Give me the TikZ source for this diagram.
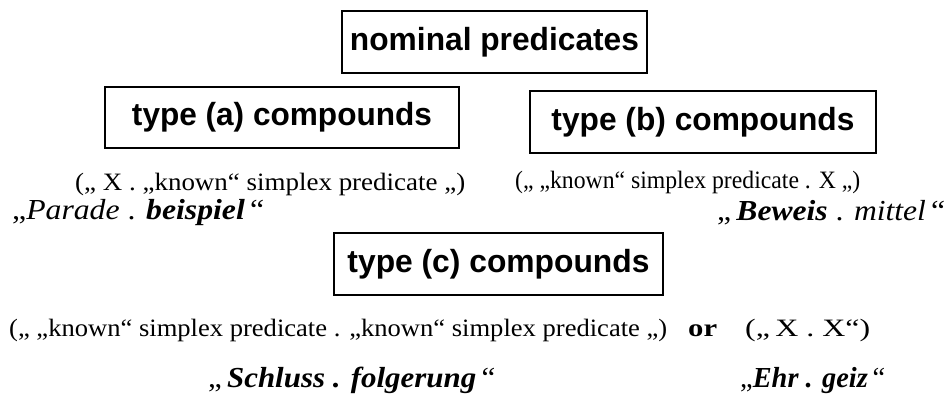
\documentclass[tikz,border=0pt]{standalone}
\usepackage{fontspec}
\usepackage{graphicx}
\setmainfont{Liberation Serif}
\setsansfont{Liberation Sans}
\newcommand{\fitw}[2]{\resizebox{#1}{\height}{#2}}
\begin{document}
\begin{tikzpicture}[x=1pt,y=-1pt,
  boxnode/.style={draw=black,line width=1.4pt,inner sep=0pt,
    font=\sffamily\bfseries\fontsize{32}{36}\selectfont},
  txt/.style={anchor=base west,inner sep=0pt,font=\fontsize{25}{30}\selectfont},
  txtsmall/.style={anchor=base west,inner sep=0pt,font=\fontsize{25}{28}\selectfont},
  exmp/.style={anchor=base west,inner sep=0pt,font=\fontsize{29}{34}\selectfont}]
\useasboundingbox (0,0) rectangle (948,401);
\node[boxnode,minimum width=305pt,minimum height=62pt] (nom) at (494.5,42) {\fitw{289pt}{nominal predicates}};
\node[boxnode,minimum width=354pt,minimum height=61pt] (ta) at (282,117.5) {\fitw{300pt}{type (a) compounds}};
\node[boxnode,minimum width=346pt,minimum height=62pt] (tb) at (703,122) {\fitw{303pt}{type (b) compounds}};
\node[boxnode,minimum width=329pt,minimum height=62pt] (tc) at (498.5,264) {\fitw{302pt}{type (c) compounds}};
\node[txt] (la) at (75,191) {\fitw{390pt}{(„ X . „known“ simplex predicate „)}};
\node[exmp] (ea) at (12,219) {\fitw{252pt}{„\textit{Parade} . \textbf{\textit{beispiel}}\,“}};
\node[txt] (lb) at (515,189) {\fitw{345pt}{(„ „known“ simplex predicate . X „)}};
\node[exmp] (eb) at (717,221) {\fitw{228pt}{„\,\textbf{\textit{Beweis}} . \textit{mittel}\,“}};
\node[txtsmall] (lc) at (9,336) {\fitw{658pt}{(„ „known“ simplex predicate . „known“ simplex predicate „)}};
\node[txtsmall] (orw) at (688,336) {\fitw{29pt}{\textbf{or}}};
\node[txtsmall] (lx) at (745,336) {\fitw{125pt}{(„\,X . X“)}};
\node[exmp] (ec1) at (208,387) {\fitw{287pt}{„\,\textbf{\textit{Schluss . folgerung}}\,“}};
\node[exmp] (ec2) at (740,387) {\fitw{145pt}{„\textbf{\textit{Ehr . geiz}}\,“}};
\end{tikzpicture}
\end{document}
